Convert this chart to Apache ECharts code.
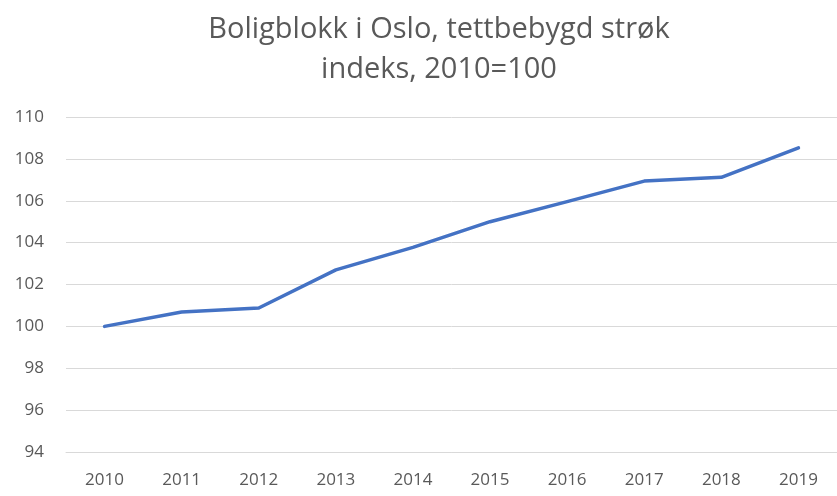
<!DOCTYPE html>
<html><head><meta charset="utf-8">
<script src="https://cdn.jsdelivr.net/npm/echarts@6/dist/echarts.min.js"></script>
<style>html,body{margin:0;padding:0;background:#fff}#c{width:837px;height:496px}</style>
</head><body><div id="c"></div>
<script>
const titleText = "Boligblokk i Oslo, tettbebygd strøk\nindeks, 2010=100";
const years = ["2010","2011","2012","2013","2014","2015","2016","2017","2018","2019"];
const values = [100.0, 100.69, 100.88, 102.7, 103.77, 105.0, 105.96, 106.94, 107.12, 108.53];
const yMin = 94, yMax = 110, yStep = 2;
const chart = echarts.init(document.getElementById('c'));
chart.setOption({
  animation: false,
  backgroundColor: '#fff',
  title: {
    text: titleText, left: 434, top: 5, padding: 5, textAlign: 'center',
    textStyle: {fontFamily: 'Open Sans', fontSize: 29, fontWeight: 'normal', color: '#595959', lineHeight: 40}
  },
  grid: {left: 66, right: -7, top: 117, bottom: 44},
  xAxis: {
    type: 'category', data: years, boundaryGap: true,
    axisLine: {lineStyle: {color: '#d9d9d9', width: 1}},
    axisTick: {show: false},
    axisLabel: {color: '#595959', fontSize: 17, fontFamily: 'Open Sans', margin: 20}
  },
  yAxis: {
    type: 'value', min: yMin, max: yMax, interval: yStep,
    axisLine: {show: false}, axisTick: {show: false},
    splitLine: {lineStyle: {color: '#d9d9d9', width: 1}},
    axisLabel: {color: '#595959', fontSize: 17, fontFamily: 'Open Sans', margin: 22}
  },
  series: [{
    type: 'line', data: values, symbol: 'none',
    lineStyle: {color: '#4472C4', width: 3.5, cap: 'round', join: 'round'}
  }]
});
</script></body></html>
